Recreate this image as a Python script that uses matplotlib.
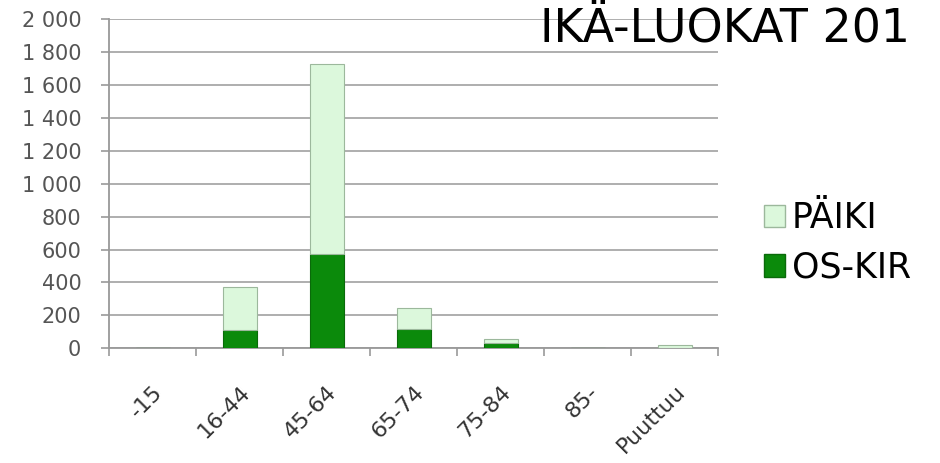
import numpy as np
import matplotlib.pyplot as plt
from matplotlib.ticker import FuncFormatter
from matplotlib.patches import Patch

categories = ['-15', '16-44', '45-64', '65-74', '75-84', '85-', 'Puuttuu']
os_kir = [0, 110, 570, 115, 30, 0, 3]
paiki = [0, 260, 1160, 130, 25, 0, 14]

dark_green = '#0b8a0b'
light_green = '#dcf8dc'


def thousands(y, position):
    s = '{:,.0f}'.format(y)
    return s.replace(',', ' ')


fig = plt.figure(figsize=(9.4, 4.63), dpi=100)
ax = fig.add_axes([0.116, 0.248, 0.648, 0.710])

x = np.arange(len(categories))
ax.bar(x, os_kir, width=0.39, color=dark_green, edgecolor='#0a6a0a', linewidth=0.8, zorder=3)
ax.bar(x, paiki, width=0.39, bottom=os_kir, color=light_green, edgecolor='#9cb89c', linewidth=0.8, zorder=3)

ax.set_xlim(-0.5, len(categories) - 0.5)
ax.set_ylim(0, 2000)
ax.set_yticks(np.arange(0, 2001, 200))
ax.yaxis.set_major_formatter(FuncFormatter(thousands))
ax.yaxis.grid(True, color='#a8a8a8', linewidth=1.3, zorder=0)

ax.set_xticks(x)
ax.set_xticklabels(categories, rotation=45, ha='right', rotation_mode='anchor')
ax.set_xticks(np.arange(-0.5, len(categories)), minor=True)
ax.tick_params(axis='x', which='major', length=0, pad=24, labelsize=16, labelcolor='#333333')
ax.tick_params(axis='x', which='minor', length=6, color='#999999', width=1.2)
ax.tick_params(axis='y', length=6, color='#999999', width=1.2, pad=14,
               labelsize=15, labelcolor='#555555')

for side in ['top', 'right']:
    ax.spines[side].set_visible(False)
for side in ['left', 'bottom']:
    ax.spines[side].set_color('#999999')
    ax.spines[side].set_linewidth(1.3)

handles = [Patch(facecolor=light_green, edgecolor='#9cb89c', label='PÄIKI'),
           Patch(facecolor=dark_green, edgecolor='#0a6a0a', label='OS-KIR')]
fig.legend(handles=handles, loc='center left', bbox_to_anchor=(0.779, 0.475),
           frameon=False, fontsize=25, handlelength=0.62, handleheight=0.62,
           handletextpad=0.2, labelspacing=0.45)

fig.text(540 / 940, 1 - 42 / 463, 'IKÄ-LUOKAT 201', fontsize=33, color='black',
         ha='left', va='baseline')

fig.savefig('out.png', dpi=100)
